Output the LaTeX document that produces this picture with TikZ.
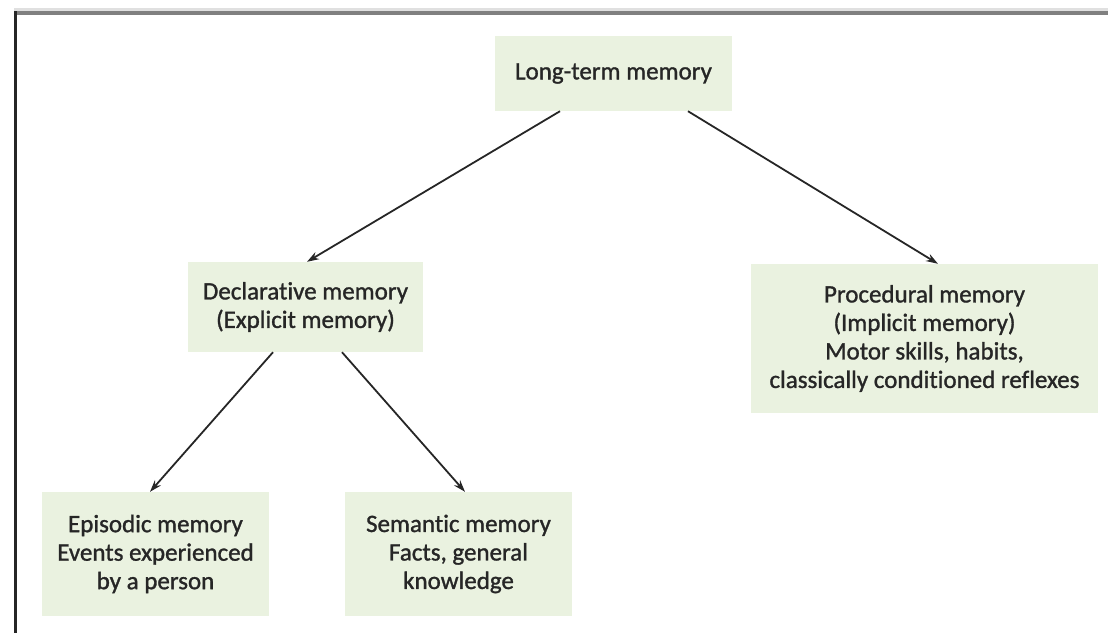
\documentclass[tikz,border=0pt]{standalone}
\usepackage{fontspec}
\setmainfont{Carlito}[Ligatures=CommonOff, FakeBold=1.2]
\usepackage{xcolor}
\usepackage{tikz}
\usetikzlibrary{positioning,%
  arrows.meta,%
  calc%
}
\definecolor{boxgreen}{RGB}{234,242,224}
\definecolor{textgray}{RGB}{38,38,38}

\begin{document}
\begin{tikzpicture}
                    [
                        x=1pt, y=-1pt,
                        every node/.style={fill=boxgreen, text=textgray, align=center, inner sep=0pt, font=\fontsize{25}{28.5}\selectfont},
                        pfeil/.style={-{Stealth[length=12pt,width=8pt]}, draw=black!85, line width=1.8pt},
                        kasten/.style={minimum width=227pt, minimum height=124pt}
                    ]

                    % Rahmen
                    \useasboundingbox (0,0) rectangle (1108,633);
                    \fill[black!12] (14,8) rectangle (1108,11);
                    \fill[black!50] (14,11) rectangle (1108,15);
                    \fill[black!85] (14,11) rectangle (17,633);

                    \node[minimum width=237pt, minimum height=75pt] (ltm) at (613.5,73.5) {Long-term memory};
                    \node[minimum width=235pt, minimum height=90pt] (decl) at (305.5,307) {Declarative memory\\(Explicit memory)};
                    \node[minimum width=347pt, minimum height=149pt] (proc) at (924.5,338.5) {Procedural memory\\(Implicit memory)\\Motor skills, habits,\\classically conditioned reflexes};
                    \node[kasten] (epi) at (155.5,554) {Episodic memory\\Events experienced\\by a person};
                    \node[kasten] (sem) at (458.5,554) {Semantic memory\\Facts, general\\knowledge};

                    \draw[pfeil] ([xshift=-53.5pt]ltm.south) -- ([xshift=1.5pt]decl.north);
                    \draw[pfeil] ([xshift=74.5pt]ltm.south) -- ([xshift=13.5pt]proc.north);
                    \draw[pfeil] ([xshift=-32.5pt]decl.south) -- ([xshift=-5.5pt]epi.north);
                    \draw[pfeil] ([xshift=36.5pt]decl.south) -- ([xshift=6.5pt]sem.north);
                \end{tikzpicture}
\end{document}
